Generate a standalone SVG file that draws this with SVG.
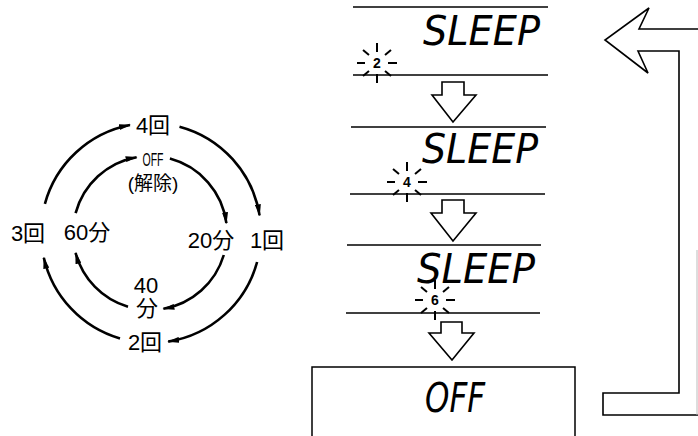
<svg xmlns="http://www.w3.org/2000/svg" width="698" height="436" viewBox="0 0 698 436">
<style>
.bg{fill:#fff}
.arc{fill:none;stroke:#000;stroke-width:2.6;marker-end:url(#ah)}
.lbl{font-family:"Liberation Sans","Noto Sans CJK JP",sans-serif;font-size:22px;fill:#000;text-anchor:middle}
.sm{font-family:"Liberation Sans","Noto Sans CJK JP",sans-serif;font-size:19px;fill:#000;text-anchor:middle}
.rule{stroke:#000;stroke-width:1.5;fill:none}
.seg{font-family:"DejaVu Sans",sans-serif;font-weight:200;font-style:italic;font-size:40px;fill:#000}
.num{font-family:"Liberation Sans",sans-serif;font-weight:bold;font-size:14px;fill:#000;text-anchor:middle}
.ray{stroke:#000;stroke-width:2;fill:none}
.hol{fill:#fff;stroke:#000;stroke-width:1.6;stroke-linejoin:miter}
</style>
<defs>
<marker id="ah" viewBox="0 0 12 6" refX="11" refY="3" markerWidth="12" markerHeight="6" markerUnits="userSpaceOnUse" orient="auto">
<path d="M0,0 L12,3 L0,6 z" fill="#000"/>
</marker>
<g id="burst" class="ray">
<line x1="0" y1="-11" x2="0" y2="-20"/>
<line x1="0" y1="11" x2="0" y2="20"/>
<line x1="-12" y1="0" x2="-20" y2="0"/>
<line x1="11" y1="0" x2="20" y2="0"/>
<line x1="-8" y1="-8" x2="-14" y2="-13"/>
<line x1="8" y1="-8" x2="14" y2="-13"/>
<line x1="-8" y1="8" x2="-14" y2="13"/>
<line x1="8" y1="8" x2="14" y2="13"/>
</g>
</defs>
<rect class="bg" x="0" y="0" width="698" height="436"/>

<g id="connectors">
<path class="arc" d="M44.9,203.8 A110,110 0 0 1 130,125"/>
<path class="arc" d="M179.5,126.7 A110,110 0 0 1 259.6,215.4"/>
<path class="arc" d="M257.1,262 A110,110 0 0 1 168.2,341.6"/>
<path class="arc" d="M120,338.5 A110,110 0 0 1 43.8,257.7"/>
<path class="arc" d="M75.6,213.2 A77,77 0 0 1 136.6,157.2"/>
<path class="arc" d="M169.9,158.6 A77,77 0 0 1 226.4,223.2"/>
<path class="arc" d="M223.8,255 A77,77 0 0 1 163.4,308.8"/>
<path class="arc" d="M128,306.8 A77,77 0 0 1 75.6,252.9"/>
<polygon class="hol" points="442,82 464,82 464,95 476,95 453,122 432,95 442,95"/>
<polygon class="hol" points="442,200 464,200 464,213 476,213 453,241 431,213 442,213"/>
<polygon class="hol" points="441,322 462,322 462,333 474,333 452,360 429,333 441,333"/>
<path class="hol" fill="none" d="M698,29 H639 L649,8 L605,40 L648,73 L638,51 H679 V393 H603 V415 H698"/>
<line x1="697" y1="250" x2="697" y2="415" stroke="#bbb" stroke-width="1"/>
</g>

<g id="n-4kai"><text class="lbl" x="153" y="133">4回</text></g>
<g id="n-1kai"><text class="lbl" x="267" y="248">1回</text></g>
<g id="n-2kai"><text class="lbl" x="145" y="350">2回</text></g>
<g id="n-3kai"><text class="lbl" x="28" y="241">3回</text></g>

<g id="n-off"><text class="sm" x="153" y="166" font-size="20" textLength="21" lengthAdjust="spacingAndGlyphs">OFF</text>
<text class="sm" x="153" y="190">(解除)</text></g>
<g id="n-20"><text class="lbl" x="211" y="248">20分</text></g>
<g id="n-40"><text class="lbl" x="146" y="293">40</text><text class="lbl" x="147" y="316">分</text></g>
<g id="n-60"><text class="lbl" x="87" y="240">60分</text></g>

<g id="panel1">
<line class="rule" x1="353" y1="7" x2="548" y2="7"/>
<line class="rule" x1="353" y1="75" x2="548" y2="75"/>
<text class="seg" x="423" y="45" textLength="117" lengthAdjust="spacingAndGlyphs">SLEEP</text>
<use href="#burst" x="377" y="63"/>
<text class="num" x="377" y="68">2</text>
</g>
<g id="panel2">
<line class="rule" x1="351" y1="127" x2="546" y2="127"/>
<line class="rule" x1="350" y1="194" x2="545" y2="194"/>
<text class="seg" x="422" y="163" textLength="116" lengthAdjust="spacingAndGlyphs">SLEEP</text>
<use href="#burst" x="407" y="182"/>
<text class="num" x="407" y="187">4</text>
</g>
<g id="panel3">
<line class="rule" x1="347" y1="245" x2="541" y2="245"/>
<line class="rule" x1="346" y1="313" x2="540" y2="313"/>
<text class="seg" x="417" y="283" textLength="118" lengthAdjust="spacingAndGlyphs">SLEEP</text>
<use href="#burst" x="435" y="300"/>
<text class="num" x="435" y="305">6</text>
</g>
<g id="panel-off">
<path class="rule" d="M312,436 V367 H575 V436"/>
<text class="seg" x="425" y="412" font-size="30" textLength="60" lengthAdjust="spacingAndGlyphs">OFF</text>
</g>
</svg>
